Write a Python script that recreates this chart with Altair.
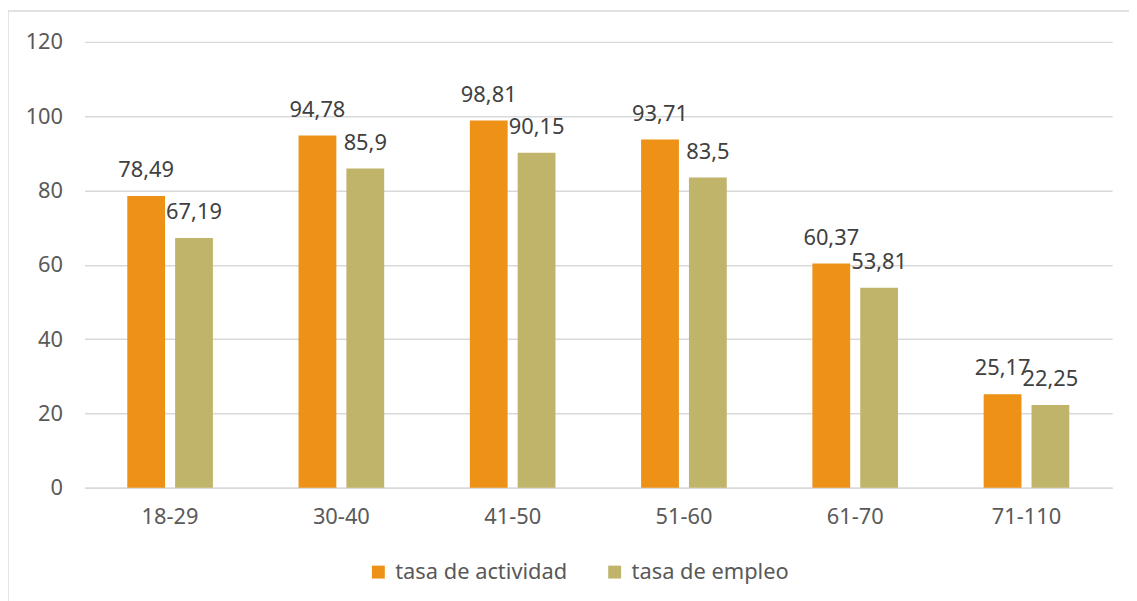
import altair as alt
import pandas as pd

grupos = ["18-29", "30-40", "41-50", "51-60", "61-70", "71-110"]
actividad = [78.49, 94.78, 98.81, 93.71, 60.37, 25.17]
empleo = [67.19, 85.9, 90.15, 83.5, 53.81, 22.25]
series = ["tasa de actividad", "tasa de empleo"]
colores = ["#ED9117", "#C0B46A"]

rows = []
for g, a, e in zip(grupos, actividad, empleo):
    rows.append({"grupo": g, "serie": series[0], "valor": a, "etq": f"{a:g}".replace(".", ",")})
    rows.append({"grupo": g, "serie": series[1], "valor": e, "etq": f"{e:g}".replace(".", ",")})
df = pd.DataFrame(rows)

FONT = "Noto Sans"
TXT = "#595959"
W, H = 1035, 449

x = alt.X("grupo:N", sort=grupos, title=None,
          scale=alt.Scale(paddingInner=0.5, paddingOuter=0.25),
          axis=alt.Axis(labelAngle=0, ticks=False, domainColor="#d9d9d9", domainWidth=1.5,
                        labelPadding=19, labelFontSize=22, labelColor=TXT, labelFont=FONT))
xo = alt.XOffset("serie:N", sort=series, scale=alt.Scale(paddingInner=0.21, paddingOuter=0))
y = alt.Y("valor:Q", title=None,
          scale=alt.Scale(domain=[0, 120]),
          axis=alt.Axis(values=[0, 20, 40, 60, 80, 100, 120], domain=False, ticks=False,
                        gridColor="#d9d9d9", gridWidth=1.5, labelPadding=22,
                        labelFontSize=22, labelColor=TXT, labelFont=FONT))

base = alt.Chart(df)

bars = base.mark_bar().encode(
    x=x, xOffset=xo, y=y,
    color=alt.Color("serie:N", sort=series,
                    scale=alt.Scale(domain=series, range=colores),
                    legend=alt.Legend(title=None, orient="none", direction="horizontal",
                                      legendX=285, legendY=523, symbolType="square",
                                      symbolSize=169, symbolStrokeWidth=0, labelFontSize=22,
                                      labelFont=FONT, labelColor=TXT, labelOffset=6,
                                      labelLimit=400, columnPadding=36)),
)

labels = base.mark_text(baseline="bottom", dy=-14, fontSize=22, font=FONT, color="#404040").encode(
    x=x, xOffset=xo, y=y, text="etq:N"
)

frame = pd.DataFrame({"k": [0]})
top_line = alt.Chart(frame).mark_rule(color="#d9d9d9", strokeWidth=1.5, clip=False).encode(
    x=alt.value(-77), x2=alt.value(1060), y=alt.value(-31))
left_line = alt.Chart(frame).mark_rule(color="#d9d9d9", strokeWidth=1.5, clip=False).encode(
    x=alt.value(-77), y=alt.value(-31), y2=alt.value(600))

chart = alt.layer(top_line, left_line, bars, labels).properties(
    width=W, height=H,
    padding={"left": 77, "top": 32, "right": 17, "bottom": 112},
    autosize=alt.AutoSizeParams(type="none"),
).configure_view(stroke=None)

chart.save("out.html", embed_options={"renderer": "svg", "actions": False})
